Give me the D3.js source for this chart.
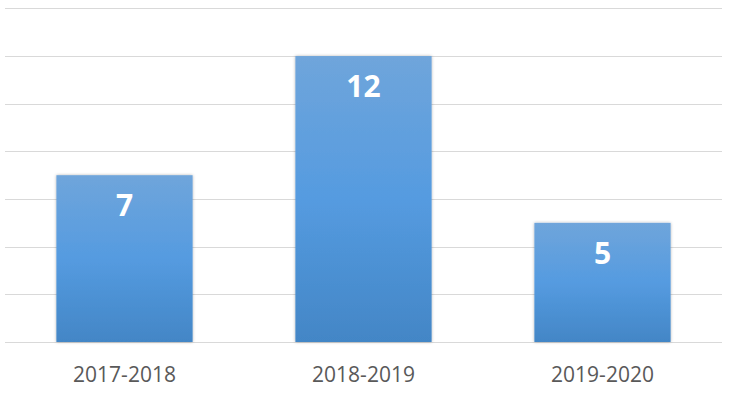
<!DOCTYPE html>
<html><head><meta charset="utf-8">
<script src="https://cdn.jsdelivr.net/npm/d3@7"></script>
<style>html,body{margin:0;padding:0;background:#fff;}</style>
</head><body>
<svg id="chart" width="735" height="393"></svg>
<script>
const categories = ["2017-2018", "2018-2019", "2019-2020"];
const values = [7, 12, 5];
const gridTicks = [0, 2, 4, 6, 8, 10, 12, 14];

const svg = d3.select("#chart");
const plotLeft = 5, plotRight = 722, plotTop = 8.4, plotBottom = 342;

const x = d3.scaleBand().domain(categories).range([plotLeft, plotRight]).paddingInner(0.43).paddingOuter(0.215);
const y = d3.scaleLinear().domain([0, 14]).range([plotBottom, plotTop]);

const defs = svg.append("defs");
const grad = defs.append("linearGradient").attr("id", "barGrad").attr("x1", 0).attr("y1", 0).attr("x2", 0).attr("y2", 1);
grad.append("stop").attr("offset", "0%").attr("stop-color", "#6fa5db");
grad.append("stop").attr("offset", "50%").attr("stop-color", "#559be0");
grad.append("stop").attr("offset", "100%").attr("stop-color", "#4386c6");
const f = defs.append("filter").attr("id", "shadow").attr("x", "-10%").attr("y", "-10%").attr("width", "120%").attr("height", "120%");
f.append("feDropShadow").attr("dx", 0).attr("dy", 0).attr("stdDeviation", 1.5).attr("flood-color", "#000").attr("flood-opacity", 0.3);

svg.append("g").selectAll("line").data(gridTicks).join("line")
  .attr("x1", plotLeft).attr("x2", plotRight)
  .attr("y1", d => Math.round(y(d)) + 0.5).attr("y2", d => Math.round(y(d)) + 0.5)
  .attr("stroke", "#d9d9d9").attr("stroke-width", 1);

svg.append("g").selectAll("rect").data(values).join("rect")
  .attr("x", (d, i) => x(categories[i]))
  .attr("width", x.bandwidth())
  .attr("y", d => y(d))
  .attr("height", d => plotBottom - y(d))
  .attr("fill", "url(#barGrad)")
  .attr("filter", "url(#shadow)");

svg.append("g").selectAll("text").data(values).join("text")
  .attr("x", (d, i) => x(categories[i]) + x.bandwidth() / 2)
  .attr("y", d => y(d) + 41)
  .attr("text-anchor", "middle")
  .attr("font-family", "'Open Sans', sans-serif")
  .attr("font-weight", "bold")
  .attr("font-size", 30)
  .attr("fill", "#fff")
  .text(d => d);

const xAxis = svg.append("g").attr("transform", `translate(0,${plotBottom})`)
  .call(d3.axisBottom(x).tickSize(0).tickPadding(0));
xAxis.select(".domain").remove();
xAxis.selectAll("text")
  .attr("y", 40).attr("dy", null)
  .attr("font-family", "'Open Sans', sans-serif")
  .attr("font-size", 21)
  .attr("fill", "#595959");
</script>
</body></html>
